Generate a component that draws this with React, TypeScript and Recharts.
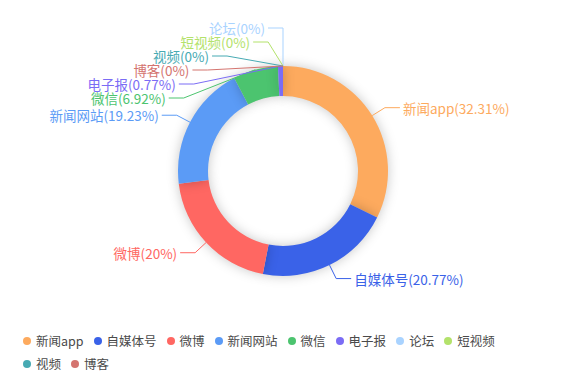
import React from 'react';
import { PieChart, Pie, Cell, Legend } from 'recharts';

// channel names, counts and colours (legend order = slice order, clockwise from top)
const channels = ['新闻app', '自媒体号', '微博', '新闻网站', '微信', '电子报', '论坛', '短视频', '视频', '博客'];
const counts = [42, 27, 26, 25, 9, 1, 0, 0, 0, 0];
const colors = ['#FDAA5E', '#3A62E8', '#FF6762', '#5B9BF6', '#4CC46F', '#7B6CF5', '#A9D3FF', '#B3E26B', '#47AAB3', '#D4746F'];

const data = channels.map((name, i) => ({ name, value: counts[i] }));

const W = 567;
const H = 382;
const CX = 283;
const CY = 171;
const INNER = 75;
const OUTER = 105;
const LEN1 = 15; // first label line segment
const LEN2 = 15; // horizontal segment
const GAP = 14; // min vertical distance between labels
const TOP = 28;
const RB = 130;
const FONT = '"Noto Sans CJK SC", "Noto Sans", sans-serif';

// work out label y positions so they don't overlap (like echarts does)
const total = counts.reduce((a, b) => a + b, 0);
type Lab = { idx: number; right: boolean; natural: number; y: number };
const labs: Lab[] = [];
{
  let acc = 0;
  counts.forEach((v, i) => {
    const mid = 90 - ((acc + v / 2) / total) * 360;
    acc += v;
    const rad = (mid * Math.PI) / 180;
    const y = CY - (OUTER + LEN1) * Math.sin(rad);
    labs.push({ idx: i, right: Math.cos(rad) > 1e-6, natural: y, y });
  });
  [true, false].forEach(side => {
    const list = labs.filter(l => l.right === side).sort((a, b) => a.natural - b.natural);
    for (let i = list.length - 2; i >= 0; i--) {
      list[i].y = Math.min(list[i].natural, list[i + 1].y - GAP);
    }
    for (let i = 0; i < list.length; i++) {
      const lo = i === 0 ? TOP : list[i - 1].y + GAP;
      if (list[i].y < lo) list[i].y = lo;
    }
  });
}

const fmt = (p: number) => `${parseFloat((p * 100).toFixed(2))}%`;

const renderLabel = (props: any) => {
  const { cx, cy, midAngle, outerRadius, index, name, percent } = props;
  const lab = labs[index];
  const rad = (midAngle * Math.PI) / 180;
  const ax = cx + outerRadius * Math.cos(rad);
  const ay = cy - outerRadius * Math.sin(rad);
  const dir = lab.right ? 1 : -1;
  let ex = cx + (outerRadius + LEN1) * Math.cos(rad);
  const ey = lab.y;
  if (Math.abs(lab.y - lab.natural) > 0.5) {
    const dy = Math.abs(ey - cy);
    ex = cx + dir * Math.sqrt(Math.max(0, 1 - (dy * dy) / (RB * RB))) * (outerRadius + LEN1);
  }
  const tx = ex + dir * LEN2;
  const color = colors[index];
  return (
    <g key={`lab-${index}`}>
      <polyline points={`${ax},${ay} ${ex},${ey} ${tx},${ey}`} fill="none" stroke={color} strokeWidth={1} />
      <text
        x={tx + dir * 3}
        y={ey}
        fill={color}
        fontSize={13.5}
        fontFamily={FONT}
        textAnchor={lab.right ? 'start' : 'end'}
        dominantBaseline="central"
      >
        {`${name}(${fmt(percent)})`}
      </text>
    </g>
  );
};

const renderLegend = () => (
  <div style={{ display: 'flex', flexWrap: 'wrap', width: 500, rowGap: 6, fontFamily: FONT, fontSize: 12.5, color: '#4a4a4a' }}>
    {channels.map((c, i) => (
      <div key={c} style={{ display: 'flex', alignItems: 'center', marginRight: 10, height: 17 }}>
        <span style={{ width: 8, height: 8, borderRadius: 4, background: colors[i], marginRight: 5 }} />
        <span>{c}</span>
      </div>
    ))}
  </div>
);

export default function App() {
  return (
    <div style={{ position: 'fixed', left: 0, top: 0, width: W, height: H, background: '#fff' }}>
      <PieChart width={W} height={H} margin={{ top: 0, right: 0, bottom: 0, left: 0 }}>
        <Pie
          data={data}
          dataKey="value"
          nameKey="name"
          cx={CX}
          cy={CY}
          innerRadius={INNER}
          outerRadius={OUTER}
          startAngle={90}
          endAngle={-270}
          stroke="none"
          label={renderLabel}
          labelLine={false}
          isAnimationActive={false}
        >
          {data.map((d, i) => (
            <Cell key={d.name} fill={colors[i]} style={{ filter: 'drop-shadow(0 0 6px rgba(0,0,0,0.22))' }} />
          ))}
        </Pie>
        <Legend
          verticalAlign="bottom"
          content={renderLegend}
          wrapperStyle={{ left: 23, bottom: 10, width: 500 }}
        />
      </PieChart>
    </div>
  );
}
